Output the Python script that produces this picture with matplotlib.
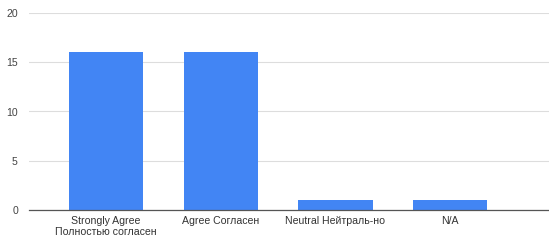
import matplotlib
matplotlib.use("Agg")
import matplotlib.pyplot as plt

categories = ["Strongly Agree\nПолностью согласен", "Agree Согласен", "Neutral Нейтраль-но", "N/A"]
values = [16, 16, 1, 1]
yticks = [0, 5, 10, 15, 20]

plt.rcParams['font.family'] = ['Liberation Sans', 'DejaVu Sans']

fig = plt.figure(figsize=(5.49, 2.45), dpi=100)
ax = fig.add_axes([29/549, 1 - 210/245, 1 - 29/549, (210 - 13)/245])

x = list(range(len(categories)))
ax.bar(x, values, width=0.645, color="#4285F4", zorder=3)

ax.set_ylim(0, 20)
ax.set_xlim(-0.67, 3.86)
ax.set_yticks(yticks)
ax.set_xticks(x)
ax.set_xticklabels(categories, fontsize=7.6, color="#333333", linespacing=1.2)
ax.tick_params(axis='y', labelsize=7.6, labelcolor="#444444", length=0, pad=8)
ax.tick_params(axis='x', length=0, pad=4)
ax.grid(axis='y', color="#dddddd", linewidth=0.8, zorder=0)
for s in ["top", "right", "left"]:
    ax.spines[s].set_visible(False)
ax.spines["bottom"].set_color("#555555")
ax.spines["bottom"].set_linewidth(0.9)
ax.spines["bottom"].set_zorder(4)

fig.savefig("out.png", dpi=100)
